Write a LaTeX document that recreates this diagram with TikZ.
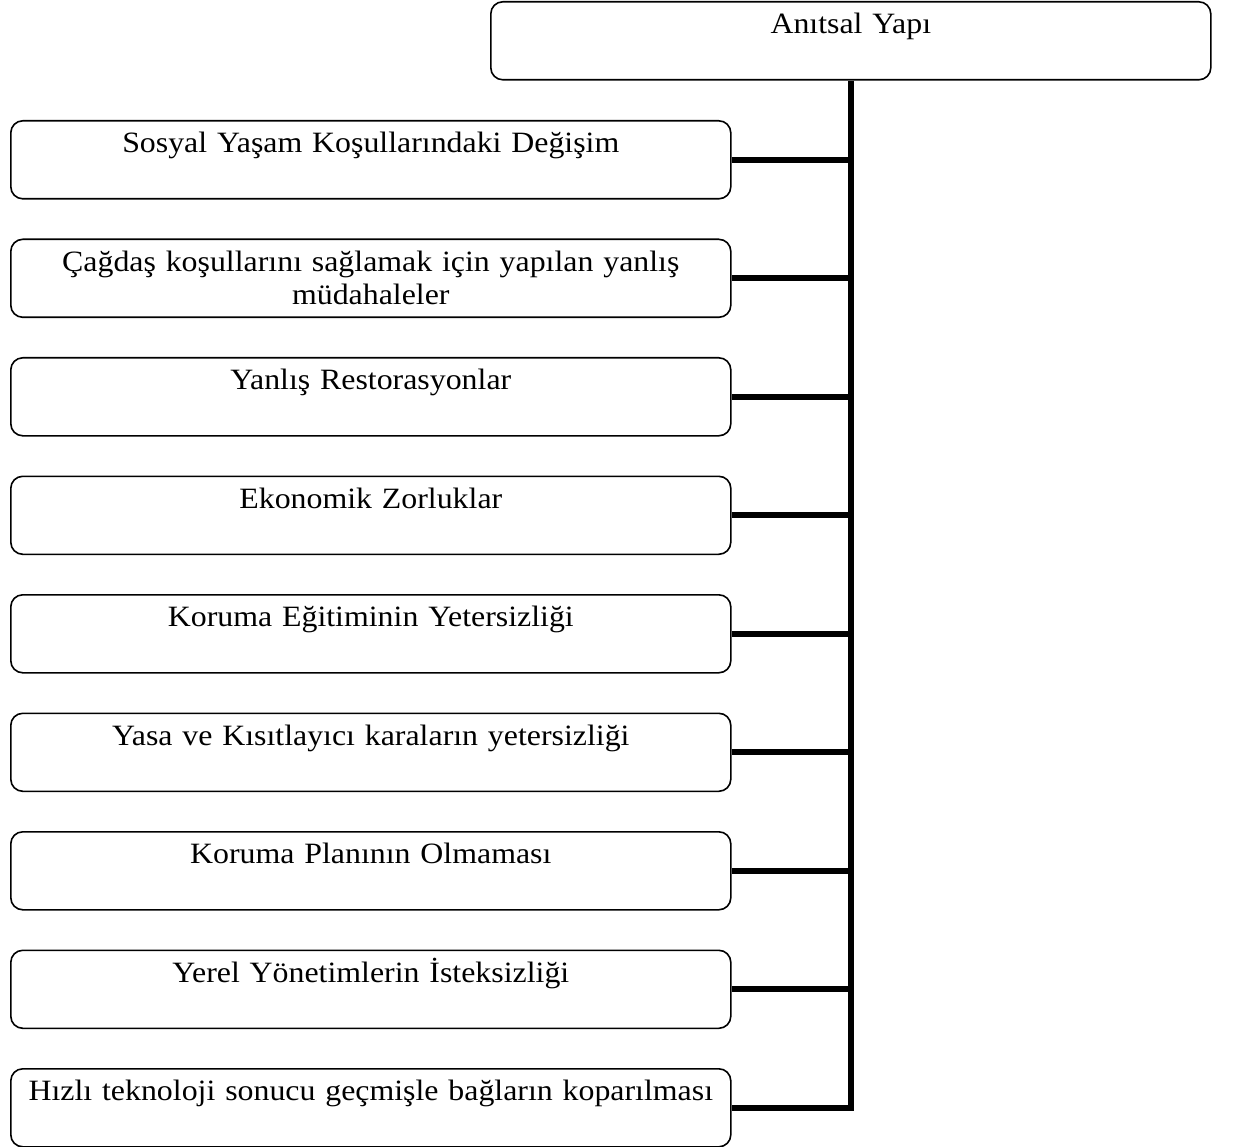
\documentclass[tikz,border=0pt]{standalone}
\usepackage{fontspec}
\setmainfont{Liberation Serif}[FakeStretch=1.08]

\begin{document}
\begin{tikzpicture}[x=1pt, y=-1pt, font=\fontsize{29.5}{33}\selectfont,
  box/.style={draw, rounded corners=12pt, line width=1.6pt, align=center, text width=700pt,
    inner xsep=10pt, inner ysep=0pt, text height=32pt, text depth=46pt, anchor=north west},
  link/.style={line width=6pt}]
\useasboundingbox (0,0) rectangle (1234,1147);
\node[box] (yapi) at (490,1) {Anıtsal Yapı};
\node[box] (b1) at (10,120)    {Sosyal Yaşam Koşullarındaki Değişim};
\node[box] (b2) at (10,238.5)  {Çağdaş koşullarını sağlamak için yapılan yanlış\\müdahaleler};
\node[box] (b3) at (10,357)    {Yanlış Restorasyonlar};
\node[box] (b4) at (10,475.5)  {Ekonomik Zorluklar};
\node[box] (b5) at (10,594)    {Koruma Eğitiminin Yetersizliği};
\node[box] (b6) at (10,712.5)  {Yasa ve Kısıtlayıcı karaların yetersizliği};
\node[box] (b7) at (10,831)    {Koruma Planının Olmaması};
\node[box] (b8) at (10,949.5)  {Yerel Yönetimlerin İsteksizliği};
\node[box] (b9) at (10,1068)   {Hızlı teknoloji sonucu geçmişle bağların koparılması};
% trunk and branches
\draw[link] (yapi.south) |- (b9.east);
\foreach \i in {1,...,8}
  \draw[link] (b\i.east) -- (b\i.east -| yapi.south);
\end{tikzpicture}
\end{document}
